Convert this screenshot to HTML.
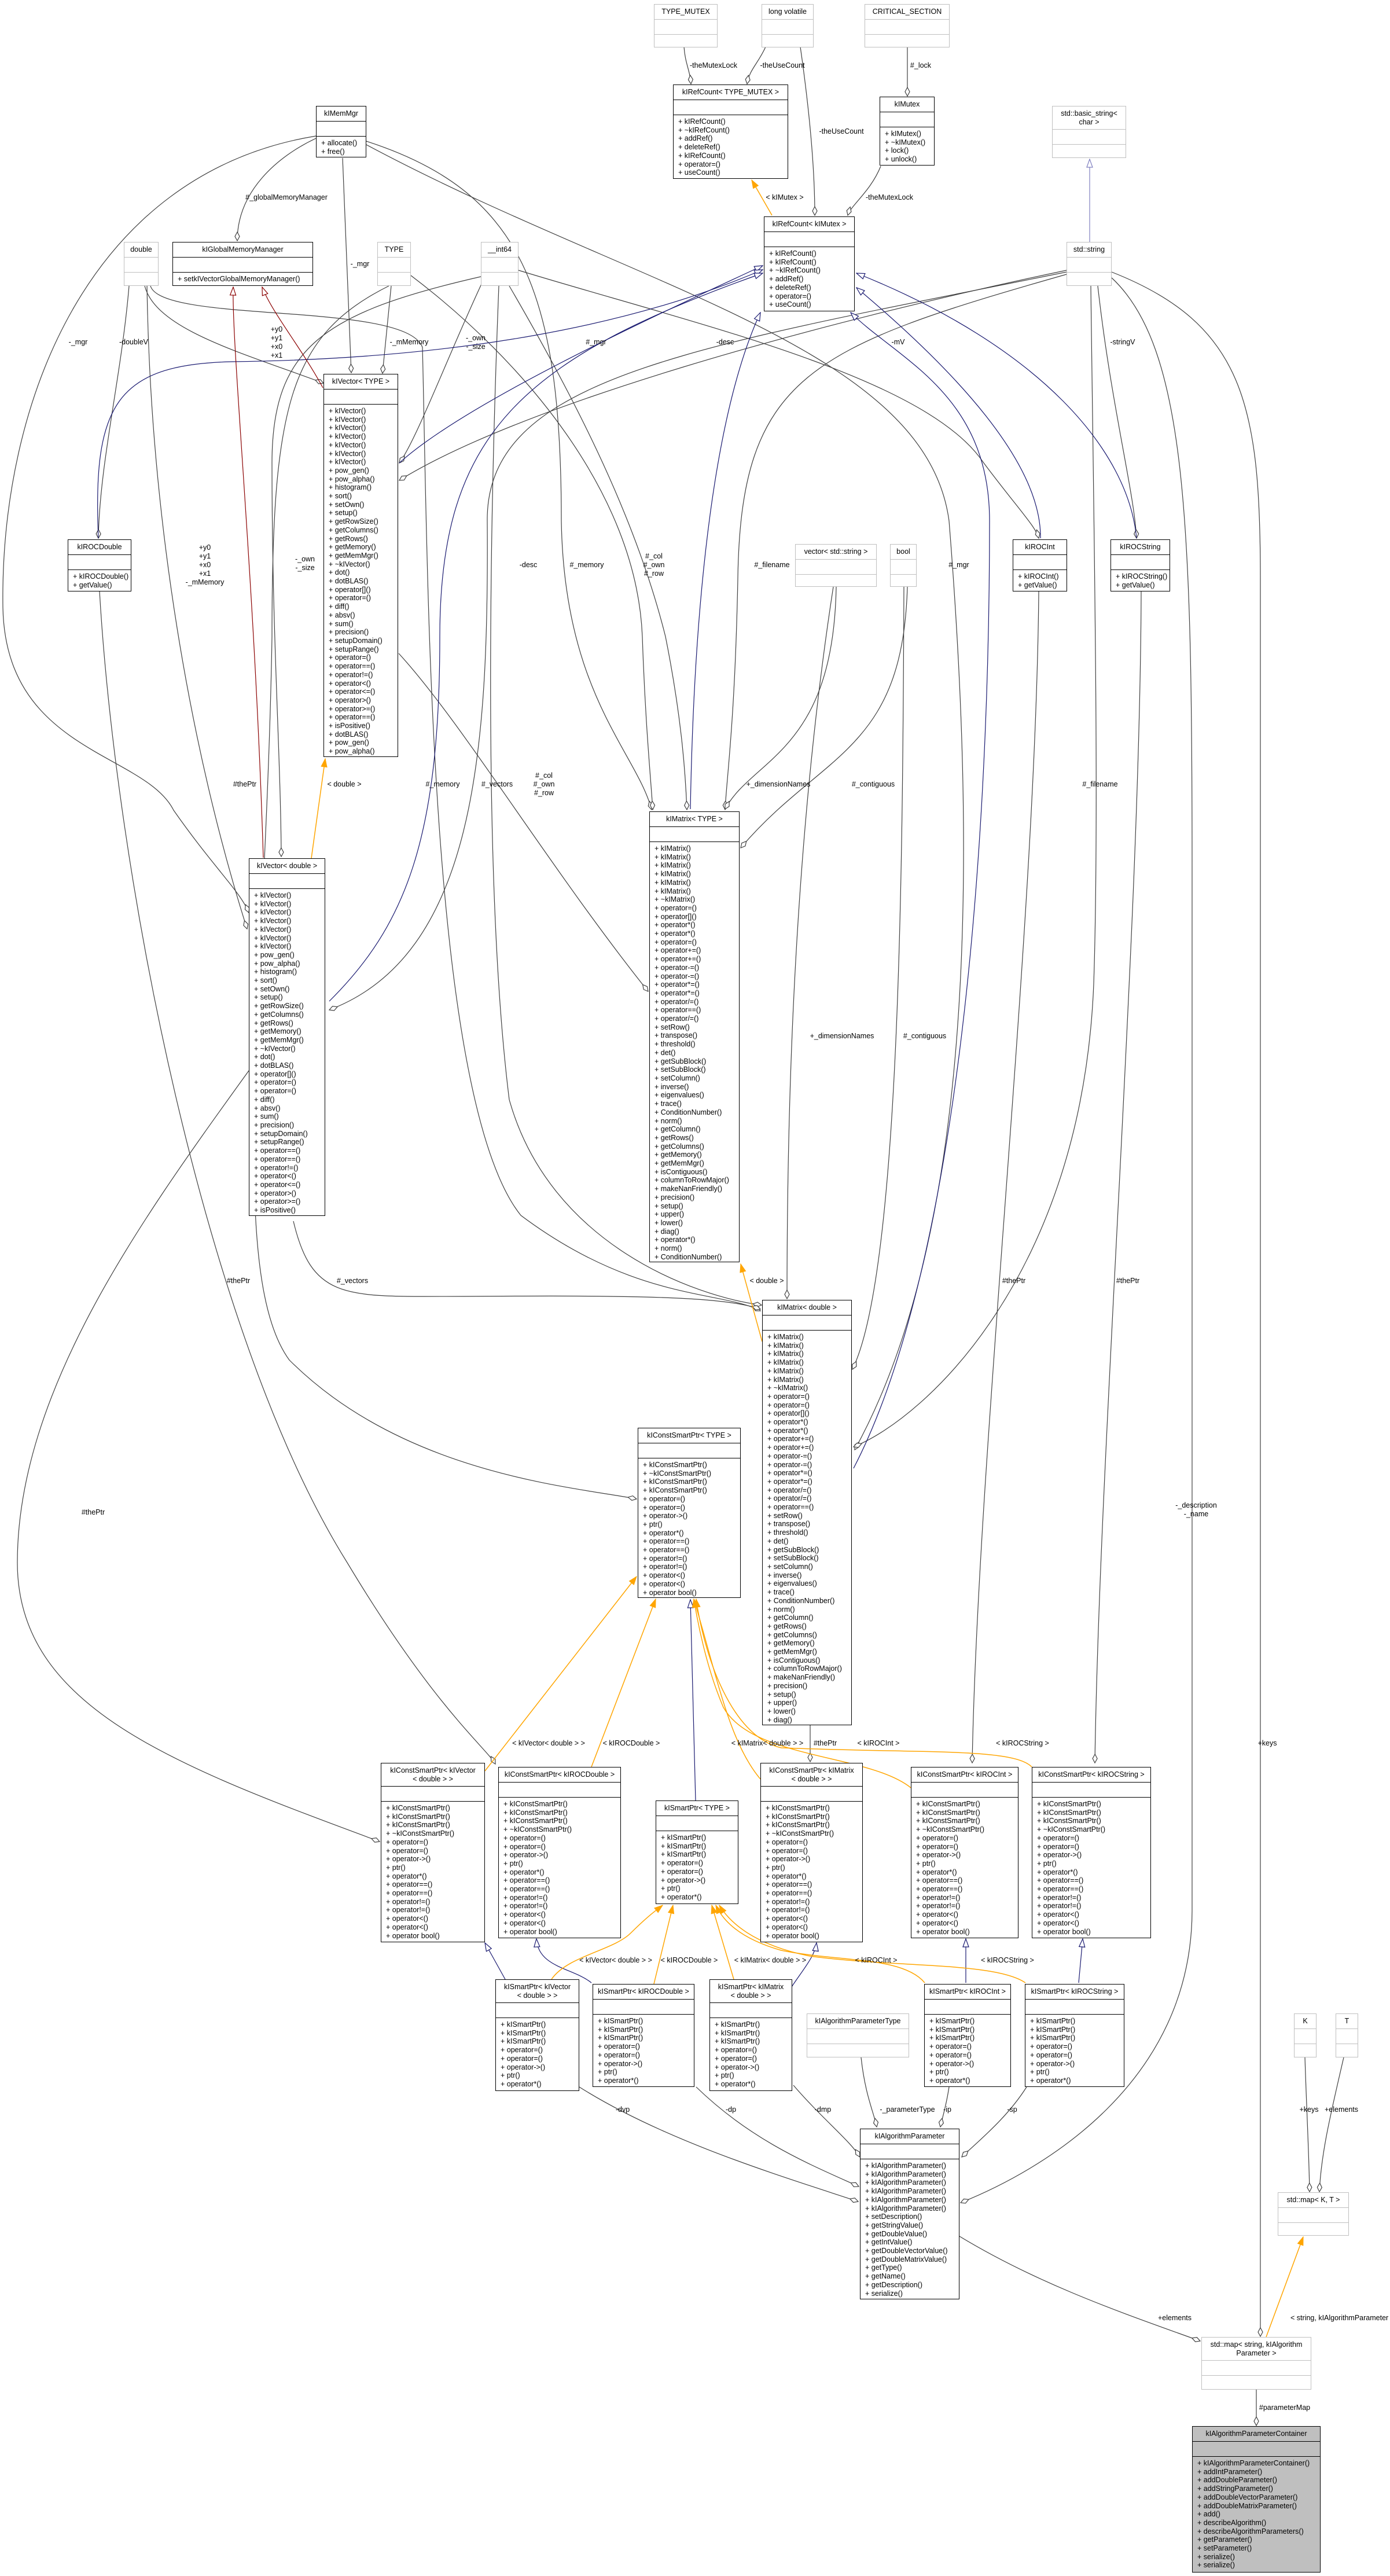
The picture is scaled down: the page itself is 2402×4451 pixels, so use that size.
<!DOCTYPE html>
<html><head><meta charset="utf-8">
<style>
html,body{margin:0;padding:0;background:#fff;}
body{width:2402px;height:4451px;position:relative;overflow:hidden;font-family:"Liberation Sans",Arial,sans-serif;}
svg{position:absolute;left:0;top:0;}
.b{position:absolute;border:1.3px solid #000;background:#fff;box-sizing:border-box;font-size:12.5px;color:#000;overflow:hidden;}
.b .t{text-align:center;height:25px;line-height:25px;border-bottom:1.3px solid #000;white-space:nowrap;}
.b .t2{text-align:center;height:40px;line-height:14.7px;padding-top:5px;box-sizing:border-box;border-bottom:1.3px solid #000;white-space:nowrap;}
.b .e{height:25px;border-bottom:1.3px solid #000;}
.b .m{padding:4px 0 0 8px;line-height:14.7px;white-space:nowrap;}
.g{border-color:#bfbfbf;}
.g .t,.g .t2,.g .e{border-color:#bfbfbf;}
.c{background:#bfbfbf;}
</style></head><body>
<svg width="2402" height="4451" viewBox="0 0 2402 4451">
<defs>
<marker id="d" markerWidth="18" markerHeight="10" refX="16" refY="5" orient="auto" markerUnits="userSpaceOnUse"><path d="M1,5 L8.5,1 L16,5 L8.5,9Z" fill="#fff" stroke="#404040" stroke-width="1.2"/></marker>
<marker id="n" markerWidth="16" markerHeight="12" refX="15" refY="6" orient="auto" markerUnits="userSpaceOnUse"><path d="M1,1 L15,6 L1,11Z" fill="#fff" stroke="#191970" stroke-width="1.2"/></marker>
<marker id="l" markerWidth="16" markerHeight="12" refX="15" refY="6" orient="auto" markerUnits="userSpaceOnUse"><path d="M1,1 L15,6 L1,11Z" fill="#fff" stroke="#8080c0" stroke-width="1.2"/></marker>
<marker id="r" markerWidth="16" markerHeight="12" refX="15" refY="6" orient="auto" markerUnits="userSpaceOnUse"><path d="M1,1 L15,6 L1,11Z" fill="#fff" stroke="#8b0000" stroke-width="1.2"/></marker>
<marker id="o" markerWidth="16" markerHeight="12" refX="15" refY="6" orient="auto" markerUnits="userSpaceOnUse"><path d="M1,1 L15,6 L1,11Z" fill="orange" stroke="orange" stroke-width="1"/></marker>
</defs>
<g fill="none" stroke="#404040" stroke-width="1.2">
<path d="M1182,81 C1184,110 1192,120 1194,145" marker-end="url(#d)"/>
<path d="M1323,81 C1310,110 1295,120 1291,145" marker-end="url(#d)"/>
<path d="M1383,81 C1400,200 1408,300 1408,372" marker-end="url(#d)"/>
<path d="M1568,81 L1568,166" marker-end="url(#d)"/>
<path d="M1522,287 C1505,330 1470,355 1465,372" marker-end="url(#d)"/>
<path d="M546,239 C480,270 410,330 410,416" marker-end="url(#d)"/>
<path d="M592,273 L607,644" marker-end="url(#d)"/>
<path d="M546,235 C150,300 0,700 5,1050 C10,1300 250,1300 300,1400 C370,1500 415,1540 430,1577" marker-end="url(#d)"/>
<path d="M633,244 C900,330 970,500 970,900 C975,1200 1100,1300 1126,1399" marker-end="url(#d)"/>
<path d="M633,250 C1100,500 1600,600 1640,900 C1680,1400 1700,2100 1477,2505" marker-end="url(#d)"/>
<path d="M223,494 C210,650 172,800 170,930" marker-end="url(#d)"/>
<path d="M250,494 C270,570 420,610 559,662" marker-end="url(#d)"/>
<path d="M254,494 C260,900 330,1300 427,1605" marker-end="url(#d)"/>
<path d="M260,494 C280,560 700,520 730,600 C740,1000 740,1900 900,2100 C1100,2250 1250,2230 1314,2265" marker-end="url(#d)"/>
<path d="M676,494 L661,645" marker-end="url(#d)"/>
<path d="M672,494 C500,580 470,700 470,1100 C460,1700 390,2200 500,2350 C700,2550 1000,2570 1100,2590" marker-end="url(#d)"/>
<path d="M710,476 C900,620 1100,850 1110,1100 C1115,1250 1125,1350 1128,1399" marker-end="url(#d)"/>
<path d="M838,478 C780,600 720,760 690,800" marker-end="url(#d)"/>
<path d="M831,478 C560,540 470,600 470,800 C470,1100 485,1300 486,1480" marker-end="url(#d)"/>
<path d="M880,494 C1000,700 1100,900 1150,1100 C1180,1250 1185,1350 1187,1399" marker-end="url(#d)"/>
<path d="M862,494 C850,800 830,1500 880,1900 C950,2150 1200,2240 1316,2255" marker-end="url(#d)"/>
<path d="M896,467 C1200,560 1600,650 1700,800 C1760,880 1790,910 1795,930" marker-end="url(#d)"/>
<path d="M1897,494 C1920,700 1960,850 1964,930" marker-end="url(#d)"/>
<path d="M1843,467 C1400,560 900,700 690,830" marker-end="url(#d)"/>
<path d="M1843,470 C1200,600 840,650 842,900 C845,1300 820,1650 569,1745" marker-end="url(#d)"/>
<path d="M1843,474 C1400,600 1280,650 1275,1000 C1270,1250 1255,1350 1253,1399" marker-end="url(#d)"/>
<path d="M1885,494 C1890,900 1900,1400 1890,1700 C1870,2200 1600,2450 1475,2500" marker-end="url(#d)"/>
<path d="M1921,480 C2050,600 2060,900 2060,1500 L2060,3300 C2060,3600 1800,3750 1660,3806" marker-end="url(#d)"/>
<path d="M1921,470 C2150,560 2178,700 2178,1000 L2178,4037" marker-end="url(#d)"/>
<path d="M1445,1014 C1440,1300 1300,1310 1253,1398" marker-end="url(#d)"/>
<path d="M1440,1014 C1365,1500 1360,2000 1360,2244" marker-end="url(#d)"/>
<path d="M1568,1014 C1560,1300 1420,1300 1280,1465" marker-end="url(#d)"/>
<path d="M1562,1014 C1560,1500 1555,2200 1473,2366" marker-end="url(#d)"/>
<path d="M689,1129 C800,1250 950,1500 1120,1713" marker-end="url(#d)"/>
<path d="M507,2110 C540,2250 600,2240 800,2240 C1100,2238 1250,2240 1314,2262" marker-end="url(#d)"/>
<path d="M172,1022 C200,1500 350,2300 600,2700 C750,2950 840,3020 856,3048" marker-end="url(#d)"/>
<path d="M430,1850 C250,2100 30,2400 30,2700 C30,2950 300,3050 656,3182" marker-end="url(#d)"/>
<path d="M1795,1022 C1790,1600 1690,2500 1680,3046" marker-end="url(#d)"/>
<path d="M1972,1022 C1970,1600 1900,2500 1892,3046" marker-end="url(#d)"/>
<path d="M1400,2981 L1400,3044" marker-end="url(#d)"/>
<path d="M1001,3606 C1150,3700 1350,3760 1483,3804" marker-end="url(#d)"/>
<path d="M1203,3606 C1300,3700 1400,3740 1484,3778" marker-end="url(#d)"/>
<path d="M1371,3603 C1420,3660 1470,3700 1486,3727" marker-end="url(#d)"/>
<path d="M1488,3555 C1495,3620 1510,3650 1515,3675" marker-end="url(#d)"/>
<path d="M1640,3606 C1635,3640 1628,3660 1625,3675" marker-end="url(#d)"/>
<path d="M1774,3606 C1740,3660 1690,3700 1662,3727" marker-end="url(#d)"/>
<path d="M1658,3864 C1800,3950 1950,4000 2074,4045" marker-end="url(#d)"/>
<path d="M2171,4129 L2171,4191" marker-end="url(#d)"/>
<path d="M2255,3555 C2258,3650 2262,3720 2263,3787" marker-end="url(#d)"/>
<path d="M2322,3555 C2300,3650 2283,3720 2280,3787" marker-end="url(#d)"/>
</g>
<g fill="none" stroke="#191970" stroke-width="1.2">
<path d="M690,800 C800,700 1100,560 1318,459" marker-end="url(#n)"/>
<path d="M170,930 C160,700 200,630 400,625 C800,620 1100,560 1318,466" marker-end="url(#n)"/>
<path d="M569,1730 C700,1600 760,1450 760,1100 C760,750 900,620 1318,472" marker-end="url(#n)"/>
<path d="M1193,1398 C1200,1000 1240,700 1314,540" marker-end="url(#n)"/>
<path d="M1475,2537 C1650,2200 1710,1500 1710,900 C1710,680 1550,620 1470,540" marker-end="url(#n)"/>
<path d="M1798,930 C1800,800 1650,640 1480,497" marker-end="url(#n)"/>
<path d="M1964,930 C1950,780 1800,600 1480,472" marker-end="url(#n)"/>
<path d="M873,3420 L838,3357" marker-end="url(#n)"/>
<path d="M1022,3426 C990,3400 930,3400 927,3350" marker-end="url(#n)"/>
<path d="M1368,3433 C1390,3400 1408,3380 1411,3357" marker-end="url(#n)"/>
<path d="M1669,3426 L1669,3350" marker-end="url(#n)"/>
<path d="M1864,3426 L1871,3350" marker-end="url(#n)"/>
<path d="M1202,3111 L1193,2764" marker-end="url(#n)"/>
</g>
<path d="M1883,418 L1883,275" fill="none" stroke="#8080c0" stroke-width="1.2" marker-end="url(#l)"/>
<g fill="none" stroke="#8b0000" stroke-width="1.2">
<path d="M558,670 C520,600 470,540 453,496" marker-end="url(#r)"/>
<path d="M455,1482 C440,1000 400,600 403,496" marker-end="url(#r)"/>
</g>
<g fill="none" stroke="orange" stroke-width="1.5">
<path d="M1334,372 L1299,311" marker-end="url(#o)"/>
<path d="M538,1483 L562,1311" marker-end="url(#o)"/>
<path d="M1317,2318 L1280,2184" marker-end="url(#o)"/>
<path d="M953,3420 C980,3380 1060,3370 1090,3340 C1120,3310 1135,3300 1145,3292" marker-end="url(#o)"/>
<path d="M1130,3428 L1163,3292" marker-end="url(#o)"/>
<path d="M1268,3420 L1230,3292" marker-end="url(#o)"/>
<path d="M1598,3426 C1560,3380 1450,3390 1350,3370 C1280,3350 1250,3320 1237,3292" marker-end="url(#o)"/>
<path d="M1772,3426 C1720,3390 1550,3400 1400,3380 C1300,3360 1260,3320 1243,3292" marker-end="url(#o)"/>
<path d="M838,3060 L1100,2724" marker-end="url(#o)"/>
<path d="M1022,3053 L1133,2763" marker-end="url(#o)"/>
<path d="M1314,3074 C1260,3010 1240,2900 1199,2763" marker-end="url(#o)"/>
<path d="M1574,3089 C1500,3030 1300,3040 1250,2950 C1220,2880 1205,2800 1199,2763" marker-end="url(#o)"/>
<path d="M1783,3053 C1750,3020 1600,3030 1350,3020 C1260,3000 1215,2850 1203,2763" marker-end="url(#o)"/>
<path d="M2188,4038 L2252,3865" marker-end="url(#o)"/>
</g>
<g font-family="Liberation Sans, Arial, sans-serif" font-size="12.5" fill="#000" text-anchor="middle">
<text x="1233" y="117">-theMutexLock</text>
<text x="1352" y="117">-theUseCount</text>
<text x="1454" y="231">-theUseCount</text>
<text x="1591" y="117">#_lock</text>
<text x="1537" y="345">-theMutexLock</text>
<text x="1356" y="345">&lt; kIMutex &gt;</text>
<text x="495" y="345">#_globalMemoryManager</text>
<text x="622" y="460">-_mgr</text>
<text x="135" y="595">-_mgr</text>
<text x="231" y="595">-doubleV</text>
<text x="478" y="573">+y0</text><text x="478" y="588">+y1</text><text x="478" y="603">+x0</text><text x="478" y="618">+x1</text>
<text x="707" y="595">-_mMemory</text>
<text x="822" y="588">-_own</text><text x="822" y="603">-_size</text>
<text x="1030" y="595">#_mgr</text>
<text x="1253" y="595">-desc</text>
<text x="1552" y="595">-mV</text>
<text x="1940" y="595">-stringV</text>
<text x="354" y="950">+y0</text><text x="354" y="965">+y1</text><text x="354" y="980">+x0</text><text x="354" y="995">+x1</text><text x="354" y="1010">-_mMemory</text>
<text x="527" y="970">-_own</text><text x="527" y="985">-_size</text>
<text x="913" y="980">-desc</text>
<text x="1014" y="980">#_memory</text>
<text x="1130" y="965">#_col</text><text x="1130" y="980">#_own</text><text x="1130" y="995">#_row</text>
<text x="1334" y="980">#_filename</text>
<text x="1657" y="980">#_mgr</text>
<text x="423" y="1359">#thePtr</text>
<text x="595" y="1359">&lt; double &gt;</text>
<text x="765" y="1359">#_memory</text>
<text x="859" y="1359">#_vectors</text>
<text x="940" y="1344">#_col</text><text x="940" y="1359">#_own</text><text x="940" y="1374">#_row</text>
<text x="1345" y="1359">+_dimensionNames</text>
<text x="1509" y="1359">#_contiguous</text>
<text x="1901" y="1359">#_filename</text>
<text x="1455" y="1794">+_dimensionNames</text>
<text x="1598" y="1794">#_contiguous</text>
<text x="412" y="2217">#thePtr</text>
<text x="609" y="2217">#_vectors</text>
<text x="1325" y="2217">&lt; double &gt;</text>
<text x="1752" y="2217">#thePtr</text>
<text x="1949" y="2217">#thePtr</text>
<text x="161" y="2617">#thePtr</text>
<text x="2067" y="2605">-_description</text><text x="2067" y="2620">-_name</text>
<text x="948" y="3016">&lt; kIVector&lt; double &gt; &gt;</text>
<text x="1091" y="3016">&lt; kIROCDouble &gt;</text>
<text x="1326" y="3016">&lt; kIMatrix&lt; double &gt; &gt;</text>
<text x="1426" y="3016">#thePtr</text>
<text x="1518" y="3016">&lt; kIROCInt &gt;</text>
<text x="1767" y="3016">&lt; kIROCString &gt;</text>
<text x="2190" y="3016">+keys</text>
<text x="1064" y="3391">&lt; kIVector&lt; double &gt; &gt;</text>
<text x="1191" y="3391">&lt; kIROCDouble &gt;</text>
<text x="1331" y="3391">&lt; kIMatrix&lt; double &gt; &gt;</text>
<text x="1514" y="3391">&lt; kIROCInt &gt;</text>
<text x="1741" y="3391">&lt; kIROCString &gt;</text>
<text x="1076" y="3649">-dvp</text>
<text x="1263" y="3649">-dp</text>
<text x="1422" y="3649">-dmp</text>
<text x="1568" y="3649">-_parameterType</text>
<text x="1637" y="3649">-ip</text>
<text x="1749" y="3649">-sp</text>
<text x="2262" y="3649">+keys</text>
<text x="2318" y="3649">+elements</text>
<text x="2030" y="4009">+elements</text>
<text x="2320" y="4009">&lt; string, kIAlgorithmParameter &gt;</text>
<text x="2220" y="4164">#parameterMap</text>
</g>
</svg>

<div class="b g" style="left:1130px;top:7px;width:110px;height:75px"><div class="t">TYPE_MUTEX</div><div class="e"></div></div>
<div class="b g" style="left:1316px;top:7px;width:90px;height:75px"><div class="t">long volatile</div><div class="e"></div></div>
<div class="b g" style="left:1494px;top:7px;width:147px;height:75px"><div class="t">CRITICAL_SECTION</div><div class="e"></div></div>

<div class="b" style="left:1163px;top:146px;width:199px;height:163px"><div class="t">kIRefCount&lt; TYPE_MUTEX &gt;</div><div class="e"></div><div class="m">+ kIRefCount()<br>+ ~kIRefCount()<br>+ addRef()<br>+ deleteRef()<br>+ kIRefCount()<br>+ operator=()<br>+ useCount()</div></div>

<div class="b" style="left:1520px;top:167px;width:95px;height:119px"><div class="t">kIMutex</div><div class="e"></div><div class="m">+ kIMutex()<br>+ ~kIMutex()<br>+ lock()<br>+ unlock()</div></div>

<div class="b" style="left:546px;top:183px;width:87px;height:89px"><div class="t">kIMemMgr</div><div class="e"></div><div class="m">+ allocate()<br>+ free()</div></div>

<div class="b g" style="left:1818px;top:183px;width:128px;height:90px"><div class="t2">std::basic_string&lt;<br>char &gt;</div><div class="e"></div></div>

<div class="b" style="left:1320px;top:374px;width:157px;height:164px"><div class="t">kIRefCount&lt; kIMutex &gt;</div><div class="e"></div><div class="m">+ kIRefCount()<br>+ kIRefCount()<br>+ ~kIRefCount()<br>+ addRef()<br>+ deleteRef()<br>+ operator=()<br>+ useCount()</div></div>

<div class="b g" style="left:214px;top:418px;width:60px;height:76px"><div class="t">double</div><div class="e"></div></div>
<div class="b" style="left:298px;top:418px;width:243px;height:76px"><div class="t">kIGlobalMemoryManager</div><div class="e"></div><div class="m">+ setkIVectorGlobalMemoryManager()</div></div>
<div class="b g" style="left:652px;top:418px;width:58px;height:76px"><div class="t">TYPE</div><div class="e"></div></div>
<div class="b g" style="left:831px;top:418px;width:65px;height:76px"><div class="t">__int64</div><div class="e"></div></div>
<div class="b g" style="left:1843px;top:418px;width:78px;height:76px"><div class="t">std::string</div><div class="e"></div></div>

<div class="b" style="left:559px;top:646px;width:129px;height:662px"><div class="t">kIVector&lt; TYPE &gt;</div><div class="e"></div><div class="m">+ kIVector()<br>+ kIVector()<br>+ kIVector()<br>+ kIVector()<br>+ kIVector()<br>+ kIVector()<br>+ kIVector()<br>+ pow_gen()<br>+ pow_alpha()<br>+ histogram()<br>+ sort()<br>+ setOwn()<br>+ setup()<br>+ getRowSize()<br>+ getColumns()<br>+ getRows()<br>+ getMemory()<br>+ getMemMgr()<br>+ ~kIVector()<br>+ dot()<br>+ dotBLAS()<br>+ operator[]()<br>+ operator=()<br>+ diff()<br>+ absv()<br>+ sum()<br>+ precision()<br>+ setupDomain()<br>+ setupRange()<br>+ operator=()<br>+ operator==()<br>+ operator!=()<br>+ operator&lt;()<br>+ operator&lt;=()<br>+ operator&gt;()<br>+ operator&gt;=()<br>+ operator==()<br>+ isPositive()<br>+ dotBLAS()<br>+ pow_gen()<br>+ pow_alpha()</div></div>

<div class="b" style="left:117px;top:932px;width:110px;height:90px"><div class="t">kIROCDouble</div><div class="e"></div><div class="m">+ kIROCDouble()<br>+ getValue()</div></div>
<div class="b g" style="left:1374px;top:940px;width:141px;height:74px"><div class="t">vector&lt; std::string &gt;</div><div class="e"></div></div>
<div class="b g" style="left:1538px;top:940px;width:46px;height:74px"><div class="t">bool</div><div class="e"></div></div>
<div class="b" style="left:1750px;top:932px;width:94px;height:90px"><div class="t">kIROCInt</div><div class="e"></div><div class="m">+ kIROCInt()<br>+ getValue()</div></div>
<div class="b" style="left:1919px;top:932px;width:103px;height:90px"><div class="t">kIROCString</div><div class="e"></div><div class="m">+ kIROCString()<br>+ getValue()</div></div>

<div class="b" style="left:1122px;top:1402px;width:156px;height:779px"><div class="t">kIMatrix&lt; TYPE &gt;</div><div class="e"></div><div class="m">+ kIMatrix()<br>+ kIMatrix()<br>+ kIMatrix()<br>+ kIMatrix()<br>+ kIMatrix()<br>+ kIMatrix()<br>+ ~kIMatrix()<br>+ operator=()<br>+ operator[]()<br>+ operator*()<br>+ operator*()<br>+ operator=()<br>+ operator+=()<br>+ operator+=()<br>+ operator-=()<br>+ operator-=()<br>+ operator*=()<br>+ operator*=()<br>+ operator/=()<br>+ operator==()<br>+ operator/=()<br>+ setRow()<br>+ transpose()<br>+ threshold()<br>+ det()<br>+ getSubBlock()<br>+ setSubBlock()<br>+ setColumn()<br>+ inverse()<br>+ eigenvalues()<br>+ trace()<br>+ ConditionNumber()<br>+ norm()<br>+ getColumn()<br>+ getRows()<br>+ getColumns()<br>+ getMemory()<br>+ getMemMgr()<br>+ isContiguous()<br>+ columnToRowMajor()<br>+ makeNanFriendly()<br>+ precision()<br>+ setup()<br>+ upper()<br>+ lower()<br>+ diag()<br>+ operator*()<br>+ norm()<br>+ ConditionNumber()</div></div>

<div class="b" style="left:430px;top:1483px;width:132px;height:618px"><div class="t">kIVector&lt; double &gt;</div><div class="e"></div><div class="m">+ kIVector()<br>+ kIVector()<br>+ kIVector()<br>+ kIVector()<br>+ kIVector()<br>+ kIVector()<br>+ kIVector()<br>+ pow_gen()<br>+ pow_alpha()<br>+ histogram()<br>+ sort()<br>+ setOwn()<br>+ setup()<br>+ getRowSize()<br>+ getColumns()<br>+ getRows()<br>+ getMemory()<br>+ getMemMgr()<br>+ ~kIVector()<br>+ dot()<br>+ dotBLAS()<br>+ operator[]()<br>+ operator=()<br>+ operator=()<br>+ diff()<br>+ absv()<br>+ sum()<br>+ precision()<br>+ setupDomain()<br>+ setupRange()<br>+ operator==()<br>+ operator==()<br>+ operator!=()<br>+ operator&lt;()<br>+ operator&lt;=()<br>+ operator&gt;()<br>+ operator&gt;=()<br>+ isPositive()</div></div>

<div class="b" style="left:1317px;top:2246px;width:155px;height:735px"><div class="t">kIMatrix&lt; double &gt;</div><div class="e"></div><div class="m">+ kIMatrix()<br>+ kIMatrix()<br>+ kIMatrix()<br>+ kIMatrix()<br>+ kIMatrix()<br>+ kIMatrix()<br>+ ~kIMatrix()<br>+ operator=()<br>+ operator=()<br>+ operator[]()<br>+ operator*()<br>+ operator*()<br>+ operator+=()<br>+ operator+=()<br>+ operator-=()<br>+ operator-=()<br>+ operator*=()<br>+ operator*=()<br>+ operator/=()<br>+ operator/=()<br>+ operator==()<br>+ setRow()<br>+ transpose()<br>+ threshold()<br>+ det()<br>+ getSubBlock()<br>+ setSubBlock()<br>+ setColumn()<br>+ inverse()<br>+ eigenvalues()<br>+ trace()<br>+ ConditionNumber()<br>+ norm()<br>+ getColumn()<br>+ getRows()<br>+ getColumns()<br>+ getMemory()<br>+ getMemMgr()<br>+ isContiguous()<br>+ columnToRowMajor()<br>+ makeNanFriendly()<br>+ precision()<br>+ setup()<br>+ upper()<br>+ lower()<br>+ diag()</div></div>

<div class="b" style="left:1102px;top:2467px;width:178px;height:294px"><div class="t">kIConstSmartPtr&lt; TYPE &gt;</div><div class="e"></div><div class="m">+ kIConstSmartPtr()<br>+ ~kIConstSmartPtr()<br>+ kIConstSmartPtr()<br>+ kIConstSmartPtr()<br>+ operator=()<br>+ operator=()<br>+ operator-&gt;()<br>+ ptr()<br>+ operator*()<br>+ operator==()<br>+ operator==()<br>+ operator!=()<br>+ operator!=()<br>+ operator&lt;()<br>+ operator&lt;()<br>+ operator bool()</div></div>

<div class="b" style="left:658px;top:3046px;width:180px;height:310px"><div class="t2">kIConstSmartPtr&lt; kIVector<br>&lt; double &gt; &gt;</div><div class="e"></div><div class="m">+ kIConstSmartPtr()<br>+ kIConstSmartPtr()<br>+ kIConstSmartPtr()<br>+ ~kIConstSmartPtr()<br>+ operator=()<br>+ operator=()<br>+ operator-&gt;()<br>+ ptr()<br>+ operator*()<br>+ operator==()<br>+ operator==()<br>+ operator!=()<br>+ operator!=()<br>+ operator&lt;()<br>+ operator&lt;()<br>+ operator bool()</div></div>

<div class="b" style="left:861px;top:3053px;width:212px;height:296px"><div class="t">kIConstSmartPtr&lt; kIROCDouble &gt;</div><div class="e"></div><div class="m">+ kIConstSmartPtr()<br>+ kIConstSmartPtr()<br>+ kIConstSmartPtr()<br>+ ~kIConstSmartPtr()<br>+ operator=()<br>+ operator=()<br>+ operator-&gt;()<br>+ ptr()<br>+ operator*()<br>+ operator==()<br>+ operator==()<br>+ operator!=()<br>+ operator!=()<br>+ operator&lt;()<br>+ operator&lt;()<br>+ operator bool()</div></div>

<div class="b" style="left:1133px;top:3111px;width:143px;height:179px"><div class="t">kISmartPtr&lt; TYPE &gt;</div><div class="e"></div><div class="m">+ kISmartPtr()<br>+ kISmartPtr()<br>+ kISmartPtr()<br>+ operator=()<br>+ operator=()<br>+ operator-&gt;()<br>+ ptr()<br>+ operator*()</div></div>

<div class="b" style="left:1314px;top:3046px;width:177px;height:310px"><div class="t2">kIConstSmartPtr&lt; kIMatrix<br>&lt; double &gt; &gt;</div><div class="e"></div><div class="m">+ kIConstSmartPtr()<br>+ kIConstSmartPtr()<br>+ kIConstSmartPtr()<br>+ ~kIConstSmartPtr()<br>+ operator=()<br>+ operator=()<br>+ operator-&gt;()<br>+ ptr()<br>+ operator*()<br>+ operator==()<br>+ operator==()<br>+ operator!=()<br>+ operator!=()<br>+ operator&lt;()<br>+ operator&lt;()<br>+ operator bool()</div></div>

<div class="b" style="left:1574px;top:3053px;width:186px;height:296px"><div class="t">kIConstSmartPtr&lt; kIROCInt &gt;</div><div class="e"></div><div class="m">+ kIConstSmartPtr()<br>+ kIConstSmartPtr()<br>+ kIConstSmartPtr()<br>+ ~kIConstSmartPtr()<br>+ operator=()<br>+ operator=()<br>+ operator-&gt;()<br>+ ptr()<br>+ operator*()<br>+ operator==()<br>+ operator==()<br>+ operator!=()<br>+ operator!=()<br>+ operator&lt;()<br>+ operator&lt;()<br>+ operator bool()</div></div>

<div class="b" style="left:1783px;top:3053px;width:206px;height:296px"><div class="t">kIConstSmartPtr&lt; kIROCString &gt;</div><div class="e"></div><div class="m">+ kIConstSmartPtr()<br>+ kIConstSmartPtr()<br>+ kIConstSmartPtr()<br>+ ~kIConstSmartPtr()<br>+ operator=()<br>+ operator=()<br>+ operator-&gt;()<br>+ ptr()<br>+ operator*()<br>+ operator==()<br>+ operator==()<br>+ operator!=()<br>+ operator!=()<br>+ operator&lt;()<br>+ operator&lt;()<br>+ operator bool()</div></div>

<div class="b" style="left:856px;top:3420px;width:145px;height:193px"><div class="t2">kISmartPtr&lt; kIVector<br>&lt; double &gt; &gt;</div><div class="e"></div><div class="m">+ kISmartPtr()<br>+ kISmartPtr()<br>+ kISmartPtr()<br>+ operator=()<br>+ operator=()<br>+ operator-&gt;()<br>+ ptr()<br>+ operator*()</div></div>

<div class="b" style="left:1024px;top:3428px;width:176px;height:178px"><div class="t">kISmartPtr&lt; kIROCDouble &gt;</div><div class="e"></div><div class="m">+ kISmartPtr()<br>+ kISmartPtr()<br>+ kISmartPtr()<br>+ operator=()<br>+ operator=()<br>+ operator-&gt;()<br>+ ptr()<br>+ operator*()</div></div>

<div class="b" style="left:1226px;top:3420px;width:143px;height:193px"><div class="t2">kISmartPtr&lt; kIMatrix<br>&lt; double &gt; &gt;</div><div class="e"></div><div class="m">+ kISmartPtr()<br>+ kISmartPtr()<br>+ kISmartPtr()<br>+ operator=()<br>+ operator=()<br>+ operator-&gt;()<br>+ ptr()<br>+ operator*()</div></div>

<div class="b g" style="left:1394px;top:3479px;width:177px;height:76px"><div class="t">kIAlgorithmParameterType</div><div class="e"></div></div>

<div class="b" style="left:1597px;top:3428px;width:150px;height:178px"><div class="t">kISmartPtr&lt; kIROCInt &gt;</div><div class="e"></div><div class="m">+ kISmartPtr()<br>+ kISmartPtr()<br>+ kISmartPtr()<br>+ operator=()<br>+ operator=()<br>+ operator-&gt;()<br>+ ptr()<br>+ operator*()</div></div>

<div class="b" style="left:1771px;top:3428px;width:172px;height:178px"><div class="t">kISmartPtr&lt; kIROCString &gt;</div><div class="e"></div><div class="m">+ kISmartPtr()<br>+ kISmartPtr()<br>+ kISmartPtr()<br>+ operator=()<br>+ operator=()<br>+ operator-&gt;()<br>+ ptr()<br>+ operator*()</div></div>

<div class="b g" style="left:2236px;top:3479px;width:39px;height:76px"><div class="t">K</div><div class="e"></div></div>
<div class="b g" style="left:2308px;top:3479px;width:39px;height:76px"><div class="t">T</div><div class="e"></div></div>

<div class="b" style="left:1486px;top:3678px;width:172px;height:295px"><div class="t">kIAlgorithmParameter</div><div class="e"></div><div class="m">+ kIAlgorithmParameter()<br>+ kIAlgorithmParameter()<br>+ kIAlgorithmParameter()<br>+ kIAlgorithmParameter()<br>+ kIAlgorithmParameter()<br>+ kIAlgorithmParameter()<br>+ setDescription()<br>+ getStringValue()<br>+ getDoubleValue()<br>+ getIntValue()<br>+ getDoubleVectorValue()<br>+ getDoubleMatrixValue()<br>+ getType()<br>+ getName()<br>+ getDescription()<br>+ serialize()</div></div>

<div class="b g" style="left:2208px;top:3788px;width:123px;height:75px"><div class="t">std::map&lt; K, T &gt;</div><div class="e"></div></div>

<div class="b g" style="left:2076px;top:4038px;width:190px;height:91px"><div class="t2">std::map&lt; string, kIAlgorithm<br>Parameter &gt;</div><div class="e"></div></div>

<div class="b c" style="left:2060px;top:4192px;width:222px;height:253px"><div class="t">kIAlgorithmParameterContainer</div><div class="e"></div><div class="m">+ kIAlgorithmParameterContainer()<br>+ addIntParameter()<br>+ addDoubleParameter()<br>+ addStringParameter()<br>+ addDoubleVectorParameter()<br>+ addDoubleMatrixParameter()<br>+ add()<br>+ describeAlgorithm()<br>+ describeAlgorithmParameters()<br>+ getParameter()<br>+ setParameter()<br>+ serialize()<br>+ serialize()</div></div>
</body></html>
